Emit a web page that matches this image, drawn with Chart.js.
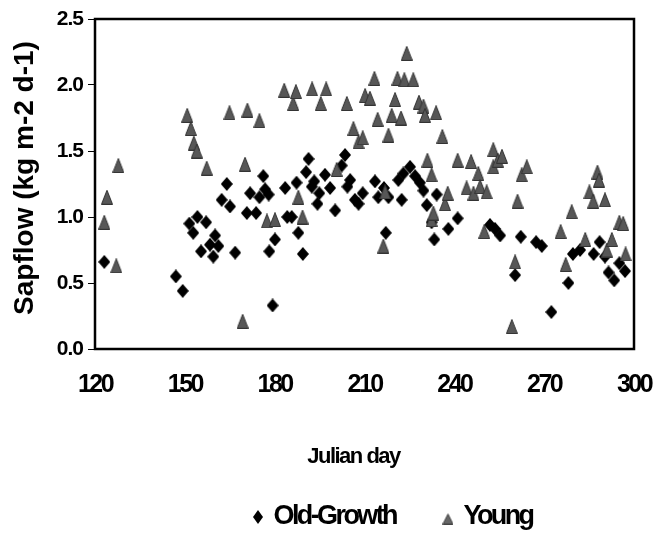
<!DOCTYPE html>
<html>
<head>
<meta charset="utf-8">
<script src="https://cdn.jsdelivr.net/npm/chart.js@4.4.1/dist/chart.umd.min.js"></script>
<style>
html,body{margin:0;padding:0;background:#fff;overflow:hidden;}
canvas{display:block;}
</style>
</head>
<body>
<canvas id="c" width="657" height="533"></canvas>
<script>
// ---- data ----
const oldGrowthDays = [123.1,147.0,149.3,151.5,152.8,154.2,155.4,157.1,158.4,159.5,160.1,161.2,162.3,164.0,165.1,166.8,170.7,171.8,173.8,174.9,176.2,176.8,178.0,178.2,179.3,180.1,183.5,184.2,185.7,187.3,187.9,189.4,190.5,191.3,192.4,193.2,194.3,194.9,196.8,198.5,200.2,202.4,203.5,204.3,205.2,206.8,208.0,209.4,213.5,214.6,216.5,217.1,218.0,221.3,222.4,223.0,225.2,226.9,228.5,229.7,230.8,232.4,233.3,234.1,238.0,241.1,251.9,253.6,255.3,260.3,262.2,267.3,269.2,272.4,278.1,279.6,282.0,286.5,288.5,290.3,291.5,293.4,295.1,297.0];
const oldGrowthSapflow = [0.66,0.55,0.44,0.95,0.88,1.00,0.74,0.96,0.79,0.70,0.86,0.78,1.13,1.25,1.08,0.73,1.03,1.18,1.03,1.15,1.31,1.21,1.17,0.74,0.33,0.83,1.22,1.00,1.00,1.26,0.88,0.72,1.34,1.44,1.23,1.27,1.10,1.18,1.32,1.22,1.05,1.39,1.47,1.23,1.28,1.13,1.10,1.18,1.27,1.15,1.22,0.88,1.15,1.28,1.13,1.33,1.38,1.31,1.26,1.20,1.09,0.96,0.83,1.17,0.91,0.99,0.94,0.91,0.86,0.56,0.85,0.81,0.78,0.28,0.50,0.72,0.75,0.72,0.81,0.70,0.58,0.52,0.65,0.59];
const youngDays = [123.1,124.0,127.1,127.8,150.8,152.0,153.0,154.0,157.3,164.9,169.3,170.1,170.9,174.9,177.4,180.1,183.2,186.2,187.1,187.9,189.3,192.5,195.4,197.2,200.7,204.1,206.3,208.0,209.4,210.2,211.8,213.3,214.4,216.3,216.9,218.0,219.1,220.2,221.0,222.2,223.3,224.1,226.3,228.2,229.7,230.2,231.0,232.4,232.4,233.0,233.9,236.0,236.9,237.8,241.1,244.1,245.6,246.4,248.0,248.6,250.0,250.8,253.0,253.0,254.5,255.9,259.2,260.3,261.1,262.5,264.2,275.5,277.2,279.2,283.7,285.1,286.4,287.8,288.3,290.3,290.9,292.6,295.1,296.4,297.2];
const youngSapflow = [0.96,1.15,0.63,1.39,1.77,1.67,1.56,1.50,1.37,1.79,0.21,1.40,1.81,1.73,0.97,0.98,1.96,1.86,1.95,1.15,1.00,1.97,1.86,1.97,1.36,1.86,1.67,1.57,1.60,1.92,1.90,2.05,1.74,0.78,1.19,1.62,1.77,1.89,2.05,1.75,2.04,2.24,2.04,1.87,1.84,1.77,1.43,1.32,0.98,1.03,1.79,1.61,1.10,1.18,1.43,1.22,1.42,1.18,1.33,1.23,0.89,1.19,1.51,1.38,1.43,1.46,0.17,0.66,1.12,1.32,1.38,0.89,0.64,1.04,0.83,1.19,1.12,1.34,1.28,1.13,0.75,0.83,0.96,0.95,0.72];
const xTickValues = [120,150,180,210,240,270,300];
const yTickValues = [0,0.5,1.0,1.5,2.0,2.5];
const seriesNames = ['Old-Growth','Young'];
const xTitle = 'Julian day';
const yTitle = 'Sapflow (kg m-2 d-1)';

// ---- styling ----
const FONT = "'Liberation Sans',Arial,sans-serif";
const PLOT = {left: 95, top: 19, right: 634, bottom: 349};

function makeDiamond(w, h, color) {
  const c = document.createElement('canvas');
  c.width = w; c.height = h;
  const g = c.getContext('2d');
  g.beginPath();
  g.moveTo(w/2, 0); g.lineTo(w, h/2); g.lineTo(w/2, h); g.lineTo(0, h/2);
  g.closePath(); g.fillStyle = color; g.fill();
  return c;
}
function makeTriangle(w, h, padTop, fill, stroke) {
  const c = document.createElement('canvas');
  c.width = w; c.height = h + padTop;
  const g = c.getContext('2d');
  g.beginPath();
  g.moveTo(w/2, padTop + 0.5); g.lineTo(w - 0.5, padTop + h - 0.5); g.lineTo(0.5, padTop + h - 0.5);
  g.closePath(); g.fillStyle = fill; g.fill();
  g.lineWidth = 1; g.strokeStyle = stroke; g.stroke();
  return c;
}
const diamondPt = makeDiamond(12, 14, '#000');
const trianglePt = makeTriangle(12, 15, 0, '#575757', '#333');
const diamondLeg = makeDiamond(10, 14, '#000');
const triangleLeg = makeTriangle(11, 11, 4, '#666', '#444');

// condensed text via canvas letterSpacing (the reference uses tightly set bold type)
function wrap(obj, name, ls, dx, dy) {
  if (!obj || obj['__w_' + name]) return;
  const orig = obj[name];
  obj[name] = function(...args) {
    const ctx = this.ctx;
    ctx.save();
    ctx.letterSpacing = ls;
    ctx.translate(dx || 0, dy || 0);
    try { return orig.apply(this, args); } finally { ctx.restore(); }
  };
  obj['__w_' + name] = true;
}

const framePlugin = {
  id: 'frame',
  beforeLayout(chart) {
    wrap(chart.legend, 'fit', '-2.6px');
    wrap(chart.legend, 'draw', '-2.6px');
  },
  afterLayout(chart) {
    const sx = chart.scales.x, sy = chart.scales.y;
    wrap(sx, 'drawLabels', '-2.5px');
    wrap(sx, 'drawTitle', '-1.5px', -11, 0);
    wrap(sy, 'drawLabels', '-1px');
    wrap(sy, 'drawTitle', '0px', 0, -6);
    const L = chart.legend;
    if (!L || !L.lineWidths) return;
    const pad = L.options.labels.padding;
    const start = (L.left + pad + L.right - L.lineWidths[0]) / 2;
    const dx = 256 - start;
    L.left += dx; L.right += dx;
    const top = 517 - pad - 27 / 2;
    L.top = top; L.bottom = top + L.height;
  },
  beforeDatasetsDraw(chart) {
    const a = chart.chartArea, ctx = chart.ctx;
    ctx.save();
    ctx.lineWidth = 2.5; ctx.strokeStyle = '#000';
    ctx.strokeRect(a.left, a.top, a.right - a.left, a.bottom - a.top);
    ctx.restore();
  }
};

new Chart(document.getElementById('c'), {
  type: 'scatter',
  data: {
    datasets: [
      {
        label: seriesNames[0],
        data: oldGrowthDays.map((d, i) => ({x: d, y: oldGrowthSapflow[i]})),
        pointStyle: diamondPt, pointRadius: 6, order: 1,
        backgroundColor: '#000', borderColor: '#000'
      },
      {
        label: seriesNames[1],
        data: youngDays.map((d, i) => ({x: d, y: youngSapflow[i]})),
        pointStyle: trianglePt, pointRadius: 6, order: 0,
        backgroundColor: '#575757', borderColor: '#333'
      }
    ]
  },
  options: {
    responsive: false,
    animation: false,
    events: [],
    layout: {padding: {left: 0, top: PLOT.top, right: 657 - PLOT.right, bottom: 0}},
    scales: {
      x: {
        type: 'linear', min: 120, max: 300,
        afterBuildTicks: s => { s.ticks = xTickValues.map(v => ({value: v})); },
        afterFit: s => {
          const lh = s.chart.legend ? s.chart.legend.height : 0;
          s.height = 533 - PLOT.bottom - lh;
          s.paddingLeft = 0; s.paddingRight = 0;
        },
        ticks: {autoSkip: false, maxRotation: 0, padding: 21, color: '#000',
                font: {family: FONT, weight: 'bold', size: 25}},
        grid: {display: false, drawTicks: false},
        border: {display: false},
        title: {display: true, text: xTitle, color: '#000',
                font: {family: FONT, weight: 'bold', size: 22}, padding: {top: 0, bottom: -24}}
      },
      y: {
        type: 'linear', min: 0, max: 2.5,
        afterBuildTicks: s => { s.ticks = yTickValues.map(v => ({value: v})); },
        afterFit: s => { s.width = PLOT.left; },
        ticks: {padding: 5, color: '#000', callback: v => Number(v).toFixed(1),
                font: {family: FONT, weight: 'bold', size: 21}},
        grid: {drawOnChartArea: false, drawTicks: true, tickLength: 7, color: '#000', lineWidth: 1},
        border: {display: true, color: '#000', width: 2},
        title: {display: true, text: yTitle, color: '#000',
                font: {family: FONT, weight: 'bold', size: 28}, padding: {top: 8, bottom: 0}}
      }
    },
    plugins: {
      tooltip: {enabled: false},
      legend: {
        position: 'bottom',
        labels: {
          usePointStyle: true, boxWidth: 4, padding: 50, color: '#000',
          font: {family: FONT, weight: 'bold', size: 27},
          generateLabels: chart => [
            {text: seriesNames[0], pointStyle: diamondLeg, fillStyle: '#000', strokeStyle: '#000', lineWidth: 0, hidden: false, datasetIndex: 0, fontColor: '#000'},
            {text: seriesNames[1], pointStyle: triangleLeg, fillStyle: '#666', strokeStyle: '#444', lineWidth: 0, hidden: false, datasetIndex: 1, fontColor: '#000'}
          ]
        }
      }
    }
  },
  plugins: [framePlugin]
});
</script>
</body>
</html>
